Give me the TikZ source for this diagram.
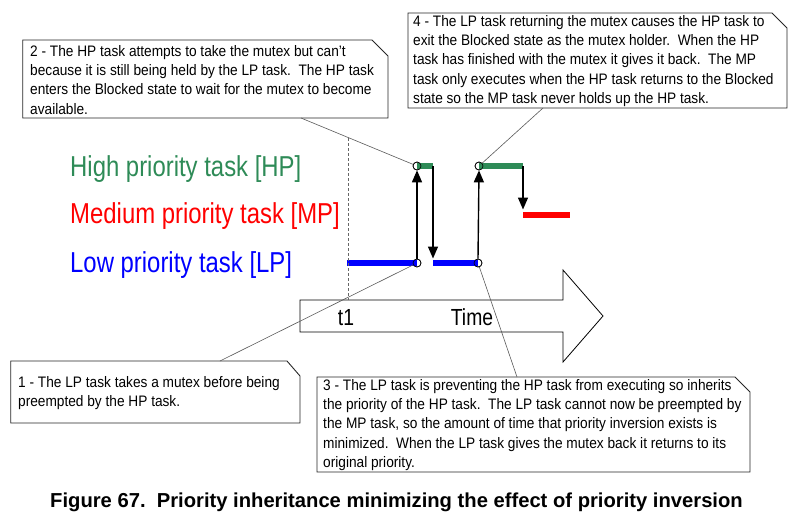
\documentclass[tikz,border=0pt]{standalone}
\usepackage{fontspec}
\setmainfont{Liberation Sans}
\newfontfamily\boxfont[FakeStretch=0.9]{Liberation Sans}
\newfontfamily\labfont[FakeStretch=0.83]{Liberation Sans}
\usetikzlibrary{arrows.meta}
\definecolor{hpgreen}{RGB}{46,139,87}
\begin{document}
\begin{tikzpicture}[x=1pt,y=-1pt,
  notebox/.style={draw=black!85, line width=0.9pt, fill=white},
  notetext/.style={anchor=north west, inner sep=0pt, align=left, font=\boxfont\fontsize{15.2}{19.3}\selectfont},
  callout/.style={draw=black!65, line width=0.6pt},
  lpbar/.style={blue, line width=6pt},
  hpbar/.style={hpgreen, line width=5.5pt},
  mpbar/.style={red, line width=6pt},
  evt/.style={circle, draw=black, line width=0.6pt, minimum size=8pt, inner sep=0pt},
  sw/.style={-{Triangle[length=12pt,width=10pt]}, line width=1.4pt},
  tasklabel/.style={anchor=base west, inner sep=0pt, font=\labfont\fontsize{28.8}{30}\selectfont},
  axislabel/.style={anchor=base, inner sep=0pt, font=\labfont\fontsize{23.3}{26}\selectfont}
]
\useasboundingbox (0,0) rectangle (797,523);

% task labels
\node[tasklabel, text=hpgreen] (lhp) at (70,176) {High priority task [HP]};
\node[tasklabel, text=red] (lmp) at (70,223) {Medium priority task [MP]};
\node[tasklabel, text=blue] (llp) at (70,272) {Low priority task [LP]};

% time arrow
\draw[line width=0.8pt, fill=white] (300,300) -- (563,300) -- (563,270) -- (603,316)
  -- (563,362) -- (563,332) -- (300,332) -- cycle;
\node[axislabel] (t1) at (346,325) {t1};
\node[axislabel] (time) at (472,325) {Time};

% event points
\node[evt] (c1) at (417,263) {};
\node[evt] (c2) at (417,166) {};
\node[evt] (c3) at (478,263) {};
\node[evt] (c4) at (479,166) {};
\coordinate (lp1s) at (347,263);
\coordinate (hp1e) at (433,166);
\coordinate (lp2s) at (433,263);
\coordinate (hp2e) at (523,166);
\coordinate (mps) at (523,215);
\coordinate (mpe) at (570,215);

% bars
\draw[lpbar] (lp1s) -- (c1.center);
\draw[hpbar] (c2.center) -- (hp1e);
\draw[lpbar] (lp2s) -- (c3.center);
\draw[hpbar] (c4.center) -- (hp2e);
\draw[mpbar] (mps) -- (mpe);
\node[evt] at (c1) {};
\node[evt] at (c2) {};
\node[evt] at (c3) {};
\node[evt] at (c4) {};

% switches
\draw[sw] (c1.north) -- (c2.south);
\draw[sw, shorten >=4.5pt] (hp1e) -- (lp2s);
\draw[sw] (c3.north) -- (c4.south);
\draw[sw, shorten >=5.5pt] (hp2e) -- (mps);

% dotted time marker
\coordinate (dt) at (348,138);
\coordinate (db) at (348,300);
\draw[densely dashed, draw=black!60, line width=0.6pt] (dt) -- (db);

% note 2
\draw[notebox] (22.7,40) -- (372,40) -- (388,56) -- (388,118) -- (22.7,118) -- cycle;
\node[notetext] (n2) at (30,42.5) {\strut 2 - The HP task attempts to take the mutex but can’t\\
because it is still being held by the LP task.\ \ The HP task\\
enters the Blocked state to wait for the mutex to become\\
available.};
\coordinate (k2) at (301,118);
\draw[callout] (k2) -- (c2);

% note 4
\draw[notebox] (408,13) -- (772,13) -- (787,28) -- (787,108) -- (408,108) -- cycle;
\node[notetext] (n4) at (413,12.5) {\strut 4 - The LP task returning the mutex causes the HP task to\\
exit the Blocked state as the mutex holder.\ \ When the HP\\
task has finished with the mutex it gives it back.\ \ The MP\\
task only executes when the HP task returns to the Blocked\\
state so the MP task never holds up the HP task.};
\coordinate (k4) at (543,108);
\draw[callout] (k4) -- (c4);

% note 1
\draw[notebox] (10.7,361) -- (287,361) -- (300,376) -- (300,423) -- (10.7,423) -- cycle;
\node[notetext] (n1) at (18,373.5) {\strut 1 - The LP task takes a mutex before being\\
preempted by the HP task.};
\coordinate (k1) at (220,361);
\draw[callout] (k1) -- (c1);

% note 3
\draw[notebox] (317,377) -- (735,377) -- (750,392) -- (750,472) -- (317,472) -- cycle;
\node[notetext] (n3) at (323,376.5) {\strut 3 - The LP task is preventing the HP task from executing so inherits\\
the priority of the HP task.\ \ The LP task cannot now be preempted by\\
the MP task, so the amount of time that priority inversion exists is\\
minimized.\ \ When the LP task gives the mutex back it returns to its\\
original priority.};
\coordinate (k3) at (517,377);
\draw[callout] (k3) -- (c3);

% caption
\node[anchor=base, inner sep=0pt, font=\bfseries\fontsize{20.2}{24}\selectfont] (cap) at (396.5,507)
  {Figure 67.\ \ Priority inheritance minimizing the effect of priority inversion};
\end{tikzpicture}
\end{document}
